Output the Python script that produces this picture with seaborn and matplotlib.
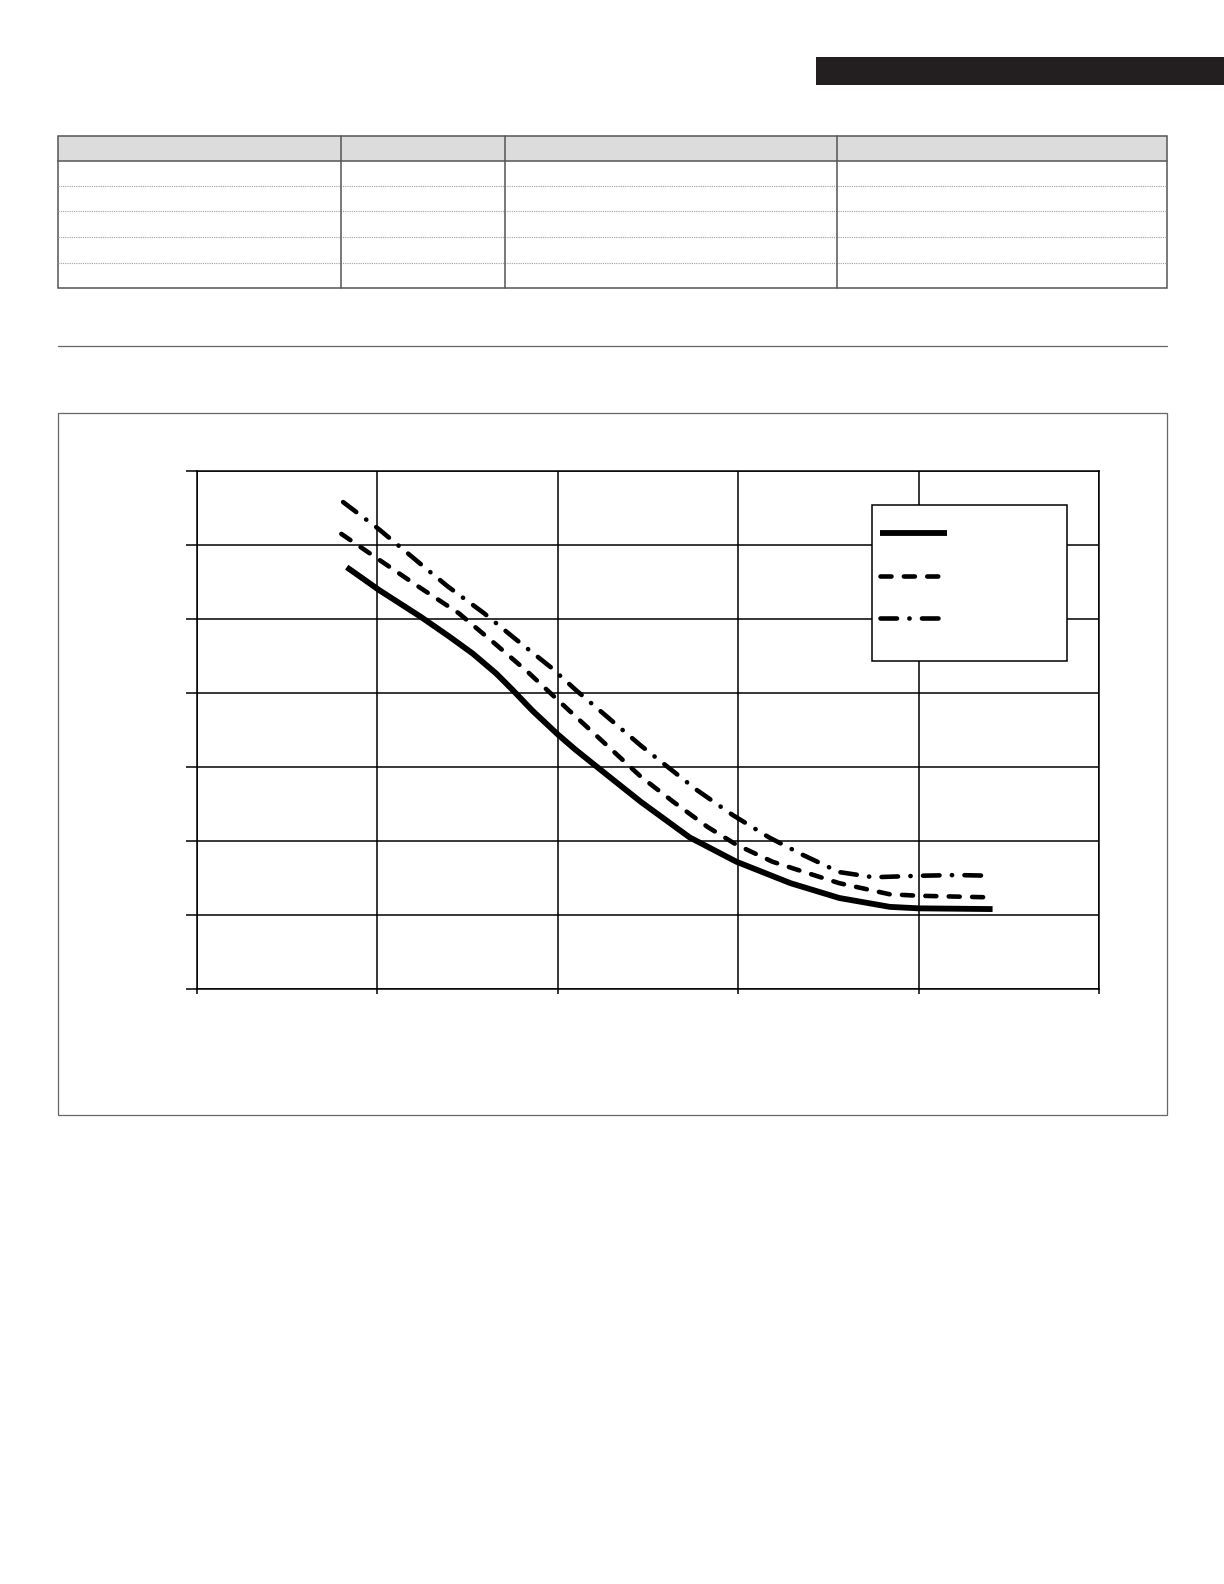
import numpy as np
import pandas as pd
import matplotlib
matplotlib.use("Agg")
import matplotlib.pyplot as plt
import seaborn as sns
from matplotlib.patches import Rectangle
from matplotlib.lines import Line2D

# ---------------- data ----------------
series_names = ["Series 1", "Series 2", "Series 3"]
solid_x = [0.83, 1.01, 1.125, 1.24, 1.40, 1.53, 1.66, 1.75, 1.86, 2.00, 2.10, 2.29, 2.46, 2.73,
           2.99, 3.29, 3.56, 3.84, 4.00, 4.41]
solid_y = [5.70, 5.39, 5.21, 5.03, 4.76, 4.53, 4.26, 4.04, 3.76, 3.44, 3.23, 2.86, 2.53, 2.05,
           1.72, 1.43, 1.23, 1.11, 1.09, 1.08]
dashed_x = [0.80, 1.01, 1.22, 1.45, 1.65, 1.84, 2.02, 2.18, 2.46, 2.64, 2.83, 2.99, 3.19, 3.38,
            3.56, 3.84, 4.00, 4.37]
dashed_y = [6.15, 5.80, 5.45, 5.08, 4.67, 4.27, 3.86, 3.50, 2.87, 2.53, 2.19, 1.95, 1.72, 1.57,
            1.43, 1.28, 1.26, 1.24]
dashdot_x = [0.81, 1.01, 1.29, 1.39, 1.59, 1.77, 1.96, 2.10, 2.22, 2.46, 2.77, 2.97, 3.17, 3.36,
             3.56, 3.75, 4.00, 4.21, 4.41]
dashdot_y = [6.58, 6.21, 5.64, 5.44, 5.08, 4.72, 4.35, 4.04, 3.79, 3.29, 2.69, 2.35, 2.05, 1.81,
             1.58, 1.51, 1.53, 1.54, 1.53]
x_ticks = [0, 1, 2, 3, 4, 5]
y_ticks = [0, 1, 2, 3, 4, 5, 6, 7]
legend_labels = ["", "", ""]  # legend carries no visible text in the reference

# ---------------- layout ----------------
W, H = 1224, 1584
sns.set_theme(style="white")
plt.rcParams["font.family"] = ["DejaVu Sans"]

fig = plt.figure(figsize=(W / 100, H / 100), dpi=100)
fig.patch.set_facecolor("white")


def fx(px):
    return px / W


def fy(py):
    return 1 - py / H


def frect(x0, y0, x1, y1, **kw):
    r = Rectangle((fx(x0), fy(y1)), fx(x1) - fx(x0), fy(y0) - fy(y1),
                  transform=fig.transFigure, **kw)
    fig.add_artist(r)
    return r


def fline(xs, ys, **kw):
    l = Line2D([fx(v) for v in xs], [fy(v) for v in ys], transform=fig.transFigure, **kw)
    fig.add_artist(l)
    return l


# black header bar, top right
frect(816, 57, 1226, 85, facecolor="#231f20", edgecolor="none")

# table
t_left, t_right, t_top, t_head, t_bottom = 57.6, 1167, 136, 160.6, 288
row_lines = [185.9, 211.2, 237.4, 262.7]
col_lines = [340.5, 505.2, 836.6]
frect(t_left, t_top, t_right, t_head, facecolor="#dcdcdc", edgecolor="none")
for ry in row_lines:
    fline([t_left, t_right], [ry, ry], color="#a0a0a0", lw=0.8, linestyle=(0, (1, 1)))
fline([t_left, t_right], [t_head, t_head], color="#555555", lw=1.1)
for cx in col_lines:
    fline([cx, cx], [t_top, t_bottom], color="#555555", lw=1.1)
frect(t_left, t_top, t_right, t_bottom, facecolor="none", edgecolor="#555555", lw=1.1)

# horizontal rule
fline([57.6, 1167], [345.6, 345.6], color="#666666", lw=0.9)

# chart box
frect(57.6, 412.7, 1167, 1115, facecolor="none", edgecolor="#666666", lw=0.9)

# ---------------- chart ----------------
ax = fig.add_axes([fx(197), fy(989), fx(1099) - fx(197), fy(471) - fy(989)])
ax.set_facecolor("white")

df = pd.concat([
    pd.DataFrame({"x": solid_x, "y": solid_y, "series": series_names[0]}),
    pd.DataFrame({"x": dashed_x, "y": dashed_y, "series": series_names[1]}),
    pd.DataFrame({"x": dashdot_x, "y": dashdot_y, "series": series_names[2]}),
], ignore_index=True)

styles = {
    series_names[0]: dict(lw=4.2, linestyle="-", solid_capstyle="butt", solid_joinstyle="round"),
    series_names[1]: dict(lw=3.3, linestyle=(0, (2.4, 2.7)), dash_capstyle="round"),
    series_names[2]: dict(lw=3.3, linestyle=(0, (3.6, 2.7, 0.05, 2.7)), dash_capstyle="round"),
}
handles = []
for name in series_names:
    sub = df[df["series"] == name]
    sns.lineplot(data=sub, x="x", y="y", ax=ax, color="black", legend=False,
                 estimator=None, zorder=3, **styles[name])
    handles.append(Line2D([], [], color="black", **styles[name]))

ax.set_xlim(x_ticks[0], x_ticks[-1])
ax.set_ylim(y_ticks[0], y_ticks[-1])
ax.set_xticks(x_ticks)
ax.set_yticks(y_ticks)
ax.set_xlabel("")
ax.set_ylabel("")
ax.tick_params(axis="x", which="both", direction="out", length=3.8, width=1.1,
               color="black", labelbottom=False, bottom=True)
ax.tick_params(axis="y", which="both", direction="out", length=7.9, width=1.1,
               color="black", labelleft=False, left=True)
ax.grid(True, color="black", lw=1.1)
ax.set_axisbelow(True)
for s in ax.spines.values():
    s.set_visible(True)
    s.set_color("black")
    s.set_linewidth(1.1)

# legend box and legend
frect(872, 505, 1067, 661, facecolor="white", edgecolor="black", lw=1.1, zorder=4)
fs = 10
fig.legend(handles, legend_labels, loc="upper left",
           bbox_to_anchor=(fx(880), fy(526.6)), bbox_transform=fig.transFigure,
           frameon=False, fontsize=fs, borderpad=0, borderaxespad=0,
           handlelength=4.8, handleheight=1.5, labelspacing=1.85,
           handletextpad=0.2)

fig.savefig("out.png", dpi=100, facecolor="white")
